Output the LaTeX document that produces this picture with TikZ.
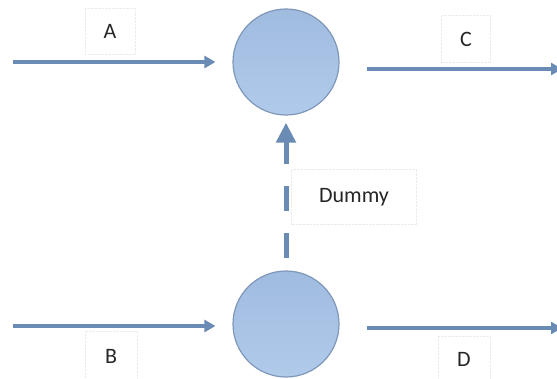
\documentclass[tikz,border=0pt]{standalone}
\usepackage{fontspec}
\setmainfont{Carlito}
\usetikzlibrary{arrows.meta}

\begin{document}
\begin{tikzpicture}[x=1pt,y=-1pt]
		\definecolor{linkblue}{HTML}{6A8BB3}
		\definecolor{ballblue}{HTML}{A6C3E8}
		\definecolor{rimblue}{HTML}{7F97B8}
		\tikzset{
			event/.style={circle,draw=rimblue,line width=1.2pt,top color=ballblue!96!black,bottom color=ballblue!88!white,minimum size=106pt,inner sep=0pt},
			activity/.style={draw=linkblue,line width=3.5pt,-{Triangle[length=11pt,width=12pt]}},
			dummyact/.style={draw=linkblue,line width=5pt,dash pattern=on 25pt off 22pt,-{Triangle[length=20pt,width=19pt]}},
			tag/.style={draw=black!8,densely dotted,font=\fontsize{22}{26}\selectfont,text=black!85,inner sep=0pt}
		}
		\useasboundingbox (0,0) rectangle (557,379);
		
		% events
		\node[event] (top) at (286,62) {};
		\node[event] (bottom) at (286,324) {};
		
		% free ends
		\coordinate (inA) at (13,62);
		\coordinate (outC) at (562,69);
		\coordinate (inB) at (13,326);
		\coordinate (outD) at (562,328);
		
		% activities
		\draw[activity,shorten >=17pt] (inA) -- (top.west);
		\draw[activity,shorten <=27pt] (top.east |- outC) -- (outC);
		\draw[activity,shorten >=17pt] (inB) -- (bottom.west |- inB);
		\draw[activity,shorten <=27pt] (bottom.east |- outD) -- (outD);
		\draw[dummyact,shorten <=12pt,shorten >=7pt] (bottom.north) -- (top.south);
		
		% labels
		\node[tag,minimum width=50pt,minimum height=46pt] (labA) at (110,31) {A};
		\node[tag,minimum width=49pt,minimum height=47pt] (labC) at (466,39) {C};
		\node[tag,minimum width=125pt,minimum height=55pt] (labDummy) at (354,197) {Dummy};
		\node[tag,minimum width=52pt,minimum height=50pt] (labB) at (111,356) {B};
		\node[tag,minimum width=52pt,minimum height=46pt] (labD) at (464,359) {D};
\end{tikzpicture}
\end{document}
